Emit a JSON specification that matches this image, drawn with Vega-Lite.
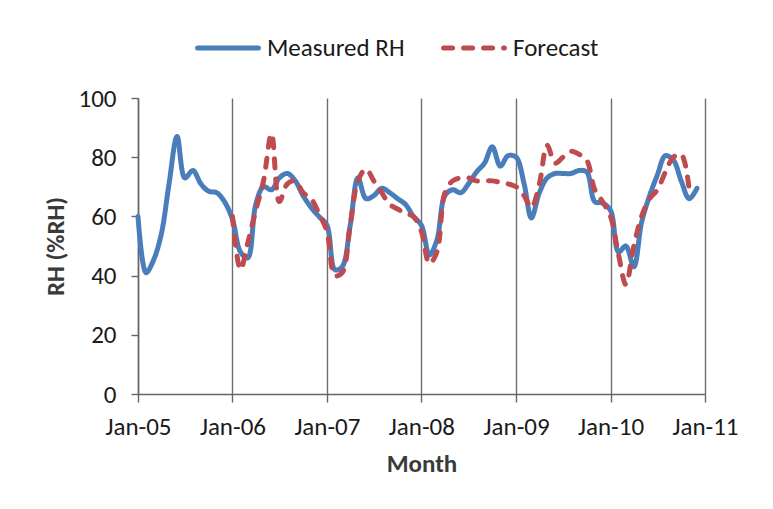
{
  "$schema": "https://vega.github.io/schema/vega-lite/v6.json",
  "width": 567,
  "height": 296,
  "autosize": {"type": "none"},
  "padding": {"left": 138, "top": 98, "right": 68, "bottom": 115},
  "background": "white",
  "config": {
    "font": "Carlito, Lato, Liberation Sans",
    "view": {"stroke": null},
    "axis": {"labelColor": "#1a1a1a", "titleColor": "#3a3a3a", "domainColor": "#666", "tickColor": "#666", "labelFontSize": 25, "titleFontSize": 25, "titleFontWeight": "bold"}
  },
  "data": {"values": [
    {"d":"2005-01-01","s":"Measured RH","v":60},{"d":"2005-02-01","s":"Measured RH","v":41},{"d":"2005-03-01","s":"Measured RH","v":45},{"d":"2005-04-01","s":"Measured RH","v":54},{"d":"2005-05-01","s":"Measured RH","v":71},{"d":"2005-06-01","s":"Measured RH","v":87},{"d":"2005-07-01","s":"Measured RH","v":73},{"d":"2005-08-01","s":"Measured RH","v":75.5},{"d":"2005-09-01","s":"Measured RH","v":71},{"d":"2005-10-01","s":"Measured RH","v":68.5},{"d":"2005-11-01","s":"Measured RH","v":68},{"d":"2005-12-01","s":"Measured RH","v":65},
    {"d":"2006-01-01","s":"Measured RH","v":59},{"d":"2006-02-01","s":"Measured RH","v":48},{"d":"2006-03-01","s":"Measured RH","v":46},{"d":"2006-04-01","s":"Measured RH","v":64},{"d":"2006-05-01","s":"Measured RH","v":70},{"d":"2006-06-01","s":"Measured RH","v":69},{"d":"2006-07-01","s":"Measured RH","v":73},{"d":"2006-08-01","s":"Measured RH","v":74.5},{"d":"2006-09-01","s":"Measured RH","v":72},{"d":"2006-10-01","s":"Measured RH","v":67},{"d":"2006-11-01","s":"Measured RH","v":63},{"d":"2006-12-01","s":"Measured RH","v":60},
    {"d":"2007-01-01","s":"Measured RH","v":57},{"d":"2007-02-01","s":"Measured RH","v":42},{"d":"2007-03-01","s":"Measured RH","v":43},{"d":"2007-04-01","s":"Measured RH","v":57},{"d":"2007-05-01","s":"Measured RH","v":73},{"d":"2007-06-01","s":"Measured RH","v":66},{"d":"2007-07-01","s":"Measured RH","v":67},{"d":"2007-08-01","s":"Measured RH","v":69.5},{"d":"2007-09-01","s":"Measured RH","v":68},{"d":"2007-10-01","s":"Measured RH","v":66},{"d":"2007-11-01","s":"Measured RH","v":64},{"d":"2007-12-01","s":"Measured RH","v":60},
    {"d":"2008-01-01","s":"Measured RH","v":57},{"d":"2008-02-01","s":"Measured RH","v":47},{"d":"2008-03-01","s":"Measured RH","v":52},{"d":"2008-04-01","s":"Measured RH","v":67},{"d":"2008-05-01","s":"Measured RH","v":69},{"d":"2008-06-01","s":"Measured RH","v":68},{"d":"2008-07-01","s":"Measured RH","v":71},{"d":"2008-08-01","s":"Measured RH","v":75},{"d":"2008-09-01","s":"Measured RH","v":78},{"d":"2008-10-01","s":"Measured RH","v":83.5},{"d":"2008-11-01","s":"Measured RH","v":77},{"d":"2008-12-01","s":"Measured RH","v":80.5},
    {"d":"2009-01-01","s":"Measured RH","v":80},{"d":"2009-02-01","s":"Measured RH","v":71},{"d":"2009-03-01","s":"Measured RH","v":59.5},{"d":"2009-04-01","s":"Measured RH","v":68},{"d":"2009-05-01","s":"Measured RH","v":73},{"d":"2009-06-01","s":"Measured RH","v":74.5},{"d":"2009-07-01","s":"Measured RH","v":74.5},{"d":"2009-08-01","s":"Measured RH","v":74.5},{"d":"2009-09-01","s":"Measured RH","v":75.5},{"d":"2009-10-01","s":"Measured RH","v":75},{"d":"2009-11-01","s":"Measured RH","v":65},{"d":"2009-12-01","s":"Measured RH","v":64.5},
    {"d":"2010-01-01","s":"Measured RH","v":62},{"d":"2010-02-01","s":"Measured RH","v":48},{"d":"2010-03-01","s":"Measured RH","v":50},{"d":"2010-04-01","s":"Measured RH","v":43},{"d":"2010-05-01","s":"Measured RH","v":58},{"d":"2010-06-01","s":"Measured RH","v":67},{"d":"2010-07-01","s":"Measured RH","v":74},{"d":"2010-08-01","s":"Measured RH","v":80.5},{"d":"2010-09-01","s":"Measured RH","v":79},{"d":"2010-10-01","s":"Measured RH","v":72},{"d":"2010-11-01","s":"Measured RH","v":66},{"d":"2010-12-01","s":"Measured RH","v":69.5},
    {"d":"2006-01-01","s":"Forecast","v":60},{"d":"2006-02-01","s":"Forecast","v":42},{"d":"2006-03-01","s":"Forecast","v":51},{"d":"2006-04-01","s":"Forecast","v":62},{"d":"2006-05-01","s":"Forecast","v":72},{"d":"2006-06-01","s":"Forecast","v":88},{"d":"2006-07-01","s":"Forecast","v":65},{"d":"2006-08-01","s":"Forecast","v":71},{"d":"2006-09-01","s":"Forecast","v":72},{"d":"2006-10-01","s":"Forecast","v":68},{"d":"2006-11-01","s":"Forecast","v":66},{"d":"2006-12-01","s":"Forecast","v":61},
    {"d":"2007-01-01","s":"Forecast","v":55},{"d":"2007-02-01","s":"Forecast","v":40},{"d":"2007-03-01","s":"Forecast","v":41},{"d":"2007-04-01","s":"Forecast","v":57},{"d":"2007-05-01","s":"Forecast","v":72},{"d":"2007-06-01","s":"Forecast","v":76},{"d":"2007-07-01","s":"Forecast","v":72},{"d":"2007-08-01","s":"Forecast","v":68},{"d":"2007-09-01","s":"Forecast","v":64},{"d":"2007-10-01","s":"Forecast","v":62.5},{"d":"2007-11-01","s":"Forecast","v":61},{"d":"2007-12-01","s":"Forecast","v":60},
    {"d":"2008-01-01","s":"Forecast","v":55},{"d":"2008-02-01","s":"Forecast","v":44},{"d":"2008-03-01","s":"Forecast","v":48},{"d":"2008-04-01","s":"Forecast","v":68},{"d":"2008-05-01","s":"Forecast","v":72},{"d":"2008-06-01","s":"Forecast","v":73},{"d":"2008-07-01","s":"Forecast","v":73},{"d":"2008-08-01","s":"Forecast","v":72},{"d":"2008-09-01","s":"Forecast","v":72},{"d":"2008-10-01","s":"Forecast","v":72},{"d":"2008-11-01","s":"Forecast","v":71.5},{"d":"2008-12-01","s":"Forecast","v":71},
    {"d":"2009-01-01","s":"Forecast","v":70},{"d":"2009-02-01","s":"Forecast","v":67},{"d":"2009-03-01","s":"Forecast","v":63},{"d":"2009-04-01","s":"Forecast","v":71},{"d":"2009-05-01","s":"Forecast","v":84},{"d":"2009-06-01","s":"Forecast","v":78},{"d":"2009-07-01","s":"Forecast","v":80},{"d":"2009-08-01","s":"Forecast","v":82},{"d":"2009-09-01","s":"Forecast","v":81},{"d":"2009-10-01","s":"Forecast","v":79},{"d":"2009-11-01","s":"Forecast","v":69},{"d":"2009-12-01","s":"Forecast","v":65},
    {"d":"2010-01-01","s":"Forecast","v":60},{"d":"2010-02-01","s":"Forecast","v":47},{"d":"2010-03-01","s":"Forecast","v":37},{"d":"2010-04-01","s":"Forecast","v":50},{"d":"2010-05-01","s":"Forecast","v":60},{"d":"2010-06-01","s":"Forecast","v":66},{"d":"2010-07-01","s":"Forecast","v":69},{"d":"2010-08-01","s":"Forecast","v":75},{"d":"2010-09-01","s":"Forecast","v":80},{"d":"2010-10-01","s":"Forecast","v":81},{"d":"2010-11-01","s":"Forecast","v":69}
  ]},
  "mark": {"type": "line", "interpolate": "catmull-rom", "strokeWidth": 5, "strokeCap": "round", "strokeJoin": "round"},
  "encoding": {
    "x": {
      "field": "d", "type": "temporal", "title": "Month",
      "scale": {"type": "utc", "domain": [{"year": 2005, "month": 1, "date": 1, "utc": true}, {"year": 2011, "month": 1, "date": 1, "utc": true}]},
      "axis": {
        "labelExpr": "utcFormat(datum.value, '%b-%y')",
        "values": [
          {"year": 2005, "month": 1, "date": 1, "utc": true},
          {"year": 2006, "month": 1, "date": 1, "utc": true},
          {"year": 2007, "month": 1, "date": 1, "utc": true},
          {"year": 2008, "month": 1, "date": 1, "utc": true},
          {"year": 2009, "month": 1, "date": 1, "utc": true},
          {"year": 2010, "month": 1, "date": 1, "utc": true},
          {"year": 2011, "month": 1, "date": 1, "utc": true}
        ],
        "grid": true, "gridColor": "#6e6e6e", "gridWidth": 1.4, "gridOpacity": 1,
        "tickSize": 8, "labelPadding": 12, "titlePadding": 12,
        "labelFlush": false, "labelOverlap": false, "domainWidth": 1.5, "tickWidth": 1.4
      }
    },
    "y": {
      "field": "v", "type": "quantitative", "title": "RH (%RH)",
      "scale": {"domain": [0, 100], "nice": false},
      "axis": {"values": [0, 20, 40, 60, 80, 100], "grid": false, "tickSize": 7, "labelPadding": 15, "titlePadding": 9, "domainWidth": 1.5, "tickWidth": 1.4}
    },
    "color": {
      "field": "s", "type": "nominal",
      "scale": {"domain": ["Measured RH", "Forecast"], "range": ["#4A7EBB", "#BE4B50"]},
      "legend": {
        "title": null, "orient": "none", "direction": "horizontal",
        "legendX": 57, "legendY": -83,
        "symbolType": "stroke", "symbolSize": 3700, "symbolStrokeWidth": 5,
        "labelFontSize": 25, "labelColor": "#1a1a1a", "labelOffset": 6, "columnPadding": 28, "labelLimit": 300,
        "encode": {"symbols": {"update": {"strokeCap": {"value": "round"}}}}
      }
    },
    "strokeDash": {
      "field": "s", "type": "nominal",
      "scale": {"domain": ["Measured RH", "Forecast"], "range": [[1, 0], [9, 11]]},
      "legend": null
    }
  }
}
